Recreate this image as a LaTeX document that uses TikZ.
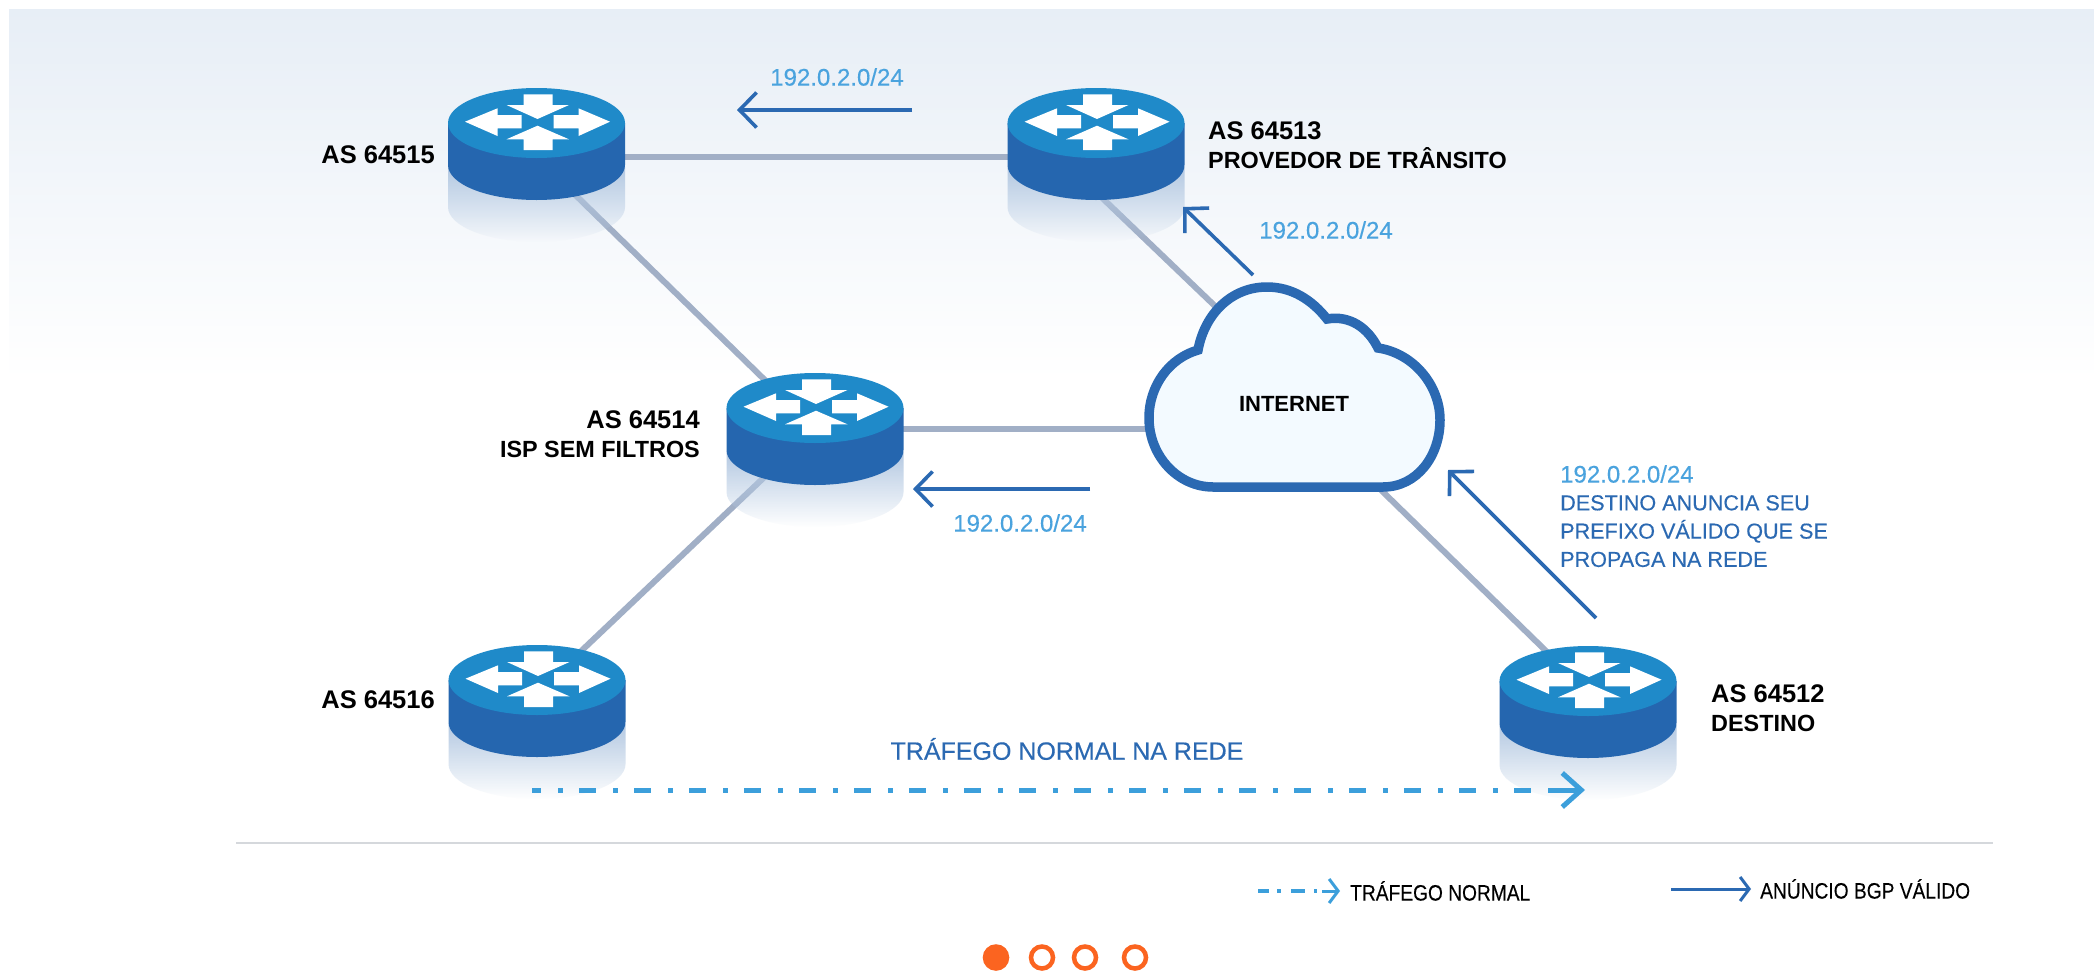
\documentclass[tikz,border=0pt]{standalone}
\usepackage{fontspec}
\setmainfont{Liberation Sans}
\newfontfamily\condfont[FakeStretch=0.86,FakeBold=0.2]{Liberation Sans}
\newfontfamily\medfont[FakeBold=0.35]{Liberation Sans}
\usetikzlibrary{arrows.meta,fadings}
\definecolor{rtop}{HTML}{1F8AC9}
\definecolor{rside}{HTML}{2566AF}
\definecolor{rshadow}{HTML}{B4C9E2}
\definecolor{link}{HTML}{A1AFC6}
\definecolor{adv}{HTML}{2B69B2}
\definecolor{lblue}{HTML}{4AA3DE}
\definecolor{traffic}{HTML}{3C9FDB}
\definecolor{cloudfill}{HTML}{F3FAFF}
\definecolor{bgtop}{HTML}{E7EEF6}
\definecolor{rule}{HTML}{D5D8DC}
\definecolor{dot}{HTML}{FB6420}
\newcommand{\capsize}[1]{{\fontsize{23.4}{29.5}\selectfont #1}}
\tikzset{
  x=1pt,y=-1pt,
  conn/.style={draw=link,line width=6pt},
  advarrow/.style={draw=adv,line width=3.6pt,-{Straight Barb[length=17pt,width=35pt,line width=3.6pt]}},
  smallarrow/.style={line width=3pt,-{Straight Barb[length=9pt,width=24pt,line width=3pt]}},
  trafficline/.style={draw=traffic,line width=5pt,dash pattern=on 17pt off 17pt on 5pt off 16pt,dash phase=8pt},
  blk/.style={font=\fontsize{25.5}{29.5}\selectfont\bfseries,text=black,inner sep=0pt,align=left},
  blkr/.style={blk,align=right},
  pref/.style={font=\fontsize{24}{28}\selectfont\medfont,text=lblue,inner sep=0pt},
  noteblue/.style={font=\fontsize{21.6}{28.3}\selectfont\medfont,text=adv,inner sep=0pt,align=left},
  legend/.style={font=\fontsize{22.3}{26}\selectfont\condfont,text=black,inner sep=0pt},
  pager/.style={circle,draw=dot,line width=4.5pt,minimum size=22pt,inner sep=0pt},
  router/.pic={
    \path[fill=rshadow,path fading=south] (-88.5,10) -- (88.5,10) -- (88.5,50) arc[start angle=0,end angle=180,x radius=88.5,y radius=35] -- cycle;
    \fill[rside] (-88.5,-34) -- (-88.5,8) arc[start angle=180,end angle=0,x radius=88.5,y radius=35] -- (88.5,-34) -- cycle;
    \fill[rtop] (0,-34) ellipse[x radius=88.5,y radius=35];
    \fill[white] (-13,-62.7) -- (16,-62.7) -- (16,-52) -- (32.5,-52) -- (1,-38) -- (-30,-52) -- (-13,-52) -- cycle;
    \fill[white] (-13,-7) -- (16,-7) -- (16,-17.7) -- (32.5,-17.7) -- (1,-31.3) -- (-30,-17.7) -- (-13,-17.7) -- cycle;
    \fill[white] (-71.5,-35.3) -- (-39,-48.7) -- (-39,-42) -- (-15,-42) -- (-15,-28.7) -- (-39,-28.7) -- (-39,-21) -- cycle;
    \fill[white] (73.5,-35.3) -- (42,-48.7) -- (42,-42) -- (17,-42) -- (17,-28.7) -- (42,-28.7) -- (42,-21) -- cycle;
  }
}
\begin{document}
\begin{tikzpicture}
\useasboundingbox (0,0) rectangle (2094,972);
\fill[white] (0,0) rectangle (2094,972);
\shade[top color=bgtop,bottom color=white] (9,9) rectangle (2094,380);

\coordinate (r1) at (536.5,157);
\coordinate (r2) at (1096,157);
\coordinate (r3) at (815,442);
\coordinate (r4) at (537,714);
\coordinate (r5) at (1588,715);
\coordinate (r3link) at (815,429);
\coordinate (r4link) at (537,693);
\coordinate (r5link) at (1588,692);
\coordinate (cloudw) at (1160,429);
\coordinate (cloudnw) at (1240,330);
\coordinate (cloudse) at (1340,450);
\coordinate (r2low) at (1096,192);

\draw[conn] (r1) -- (r2);
\draw[conn] (r1) -- (r3link);
\draw[conn] (r3link) -- (r4link);
\draw[conn] (r3link) -- (cloudw);
\draw[conn] (r2low) -- (cloudnw);
\draw[conn] (cloudse) -- (r5link);

\pic at (r1) {router};
\pic at (r2) {router};
\pic at (r3) {router};
\pic at (r4) {router};
\pic at (r5) {router};

\draw[draw=adv,fill=cloudfill,line width=9.5pt,miter limit=10]
  (1213,487) -- (1383,487)
  .. controls (1417,487) and (1440,456) .. (1440,420)
  .. controls (1440,385) and (1413,353) .. (1378,348)
  .. controls (1368,328) and (1350,315) .. (1327,319)
  .. controls (1312,300) and (1292,287) .. (1267,287)
  .. controls (1232,287) and (1205,313) .. (1198,350)
  .. controls (1170,358) and (1149,385) .. (1149,418)
  .. controls (1149,456) and (1178,487) .. (1213,487) -- cycle;
\node[blk,font=\fontsize{22}{26}\selectfont\bfseries] (internet) at (1294,404) {INTERNET};

\node[blkr,anchor=east] (l1) at (435,155) {AS 64515};
\node[blk,anchor=north west] (l2) at (1208,121) {AS 64513\\\capsize{PROVEDOR DE TRÂNSITO}};
\node[blkr,anchor=north east] (l3) at (700,410) {AS 64514\\\capsize{ISP SEM FILTROS}};
\node[blkr,anchor=east] (l4) at (435,700) {AS 64516};
\node[blk,anchor=north west] (l5) at (1711,684) {AS 64512\\\capsize{DESTINO}};

\coordinate (a1s) at (912,110); \coordinate (a1e) at (737,110);
\coordinate (a2s) at (1253,275); \coordinate (a2e) at (1183,207);
\coordinate (a3s) at (1090,489); \coordinate (a3e) at (913,489);
\coordinate (a4s) at (1596,618); \coordinate (a4e) at (1448,470);
\draw[advarrow] (a1s) -- (a1e);
\draw[advarrow] (a2s) -- (a2e);
\draw[advarrow] (a3s) -- (a3e);
\draw[advarrow] (a4s) -- (a4e);

\node[pref] (p1) at (837,77) {192.0.2.0/24};
\node[pref] (p2) at (1326,230) {192.0.2.0/24};
\node[pref] (p3) at (1020,523) {192.0.2.0/24};
\node[pref,anchor=west] (p4) at (1560,474) {192.0.2.0/24};
\node[noteblue,anchor=north west] (n4) at (1560,495) {DESTINO ANUNCIA SEU\\PREFIXO VÁLIDO QUE SE\\PROPAGA NA REDE};

\node[font=\fontsize{25}{30}\selectfont\medfont,text=adv,inner sep=0pt] (t) at (1067,749) {TRÁFEGO NORMAL NA REDE};
\coordinate (ts) at (532,790); \coordinate (tm) at (1552,790); \coordinate (te) at (1585,790);
\draw[trafficline] (ts) -- (tm);
\draw[draw=traffic,line width=5pt,-{Straight Barb[length=19pt,width=34pt,line width=5pt]}] (tm) -- (te);

\coordinate (ru1) at (236,843); \coordinate (ru2) at (1993,843);
\draw[rule,line width=2pt] (ru1) -- (ru2);

\coordinate (ls0) at (1258,891); \coordinate (lm1) at (1322,891); \coordinate (le1) at (1340,891);
\draw[draw=traffic,line width=3.4pt,dash pattern=on 11pt off 8pt on 4pt off 10pt on 14pt off 9pt on 3pt off 8pt] (ls0) -- (lm1);
\draw[draw=traffic,smallarrow] (lm1) -- (le1);
\node[legend,anchor=west] (lt1) at (1350,891) {TRÁFEGO NORMAL};
\coordinate (ls2) at (1671,889); \coordinate (le2) at (1751,889);
\draw[draw=adv,smallarrow] (ls2) -- (le2);
\node[legend,anchor=west] (lt2) at (1760,889) {ANÚNCIO BGP VÁLIDO};

\node[pager,fill=dot] (d1) at (996,957.5) {};
\node[pager] (d2) at (1042,957.5) {};
\node[pager] (d3) at (1085,957.5) {};
\node[pager] (d4) at (1135,957.5) {};
\end{tikzpicture}
\end{document}
